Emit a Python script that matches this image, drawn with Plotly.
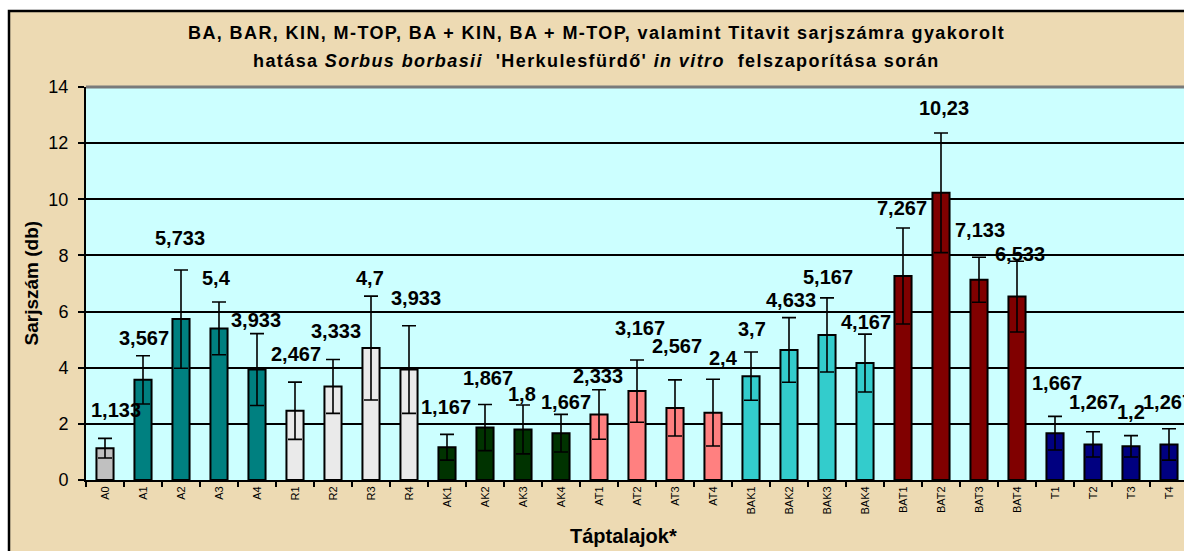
import plotly.graph_objects as go

categories = ["A0", "A1", "A2", "A3", "A4", "R1", "R2", "R3", "R4",
              "AK1", "AK2", "AK3", "AK4", "AT1", "AT2", "AT3", "AT4",
              "BAK1", "BAK2", "BAK3", "BAK4", "BAT1", "BAT2", "BAT3", "BAT4",
              "T1", "T2", "T3", "T4"]
values = [1.133, 3.567, 5.733, 5.4, 3.933, 2.467, 3.333, 4.7, 3.933,
          1.167, 1.867, 1.8, 1.667, 2.333, 3.167, 2.567, 2.4,
          3.7, 4.633, 5.167, 4.167, 7.267, 10.23, 7.133, 6.533,
          1.667, 1.267, 1.2, 1.267]
errors = [0.35, 0.86, 1.75, 0.94, 1.28, 1.02, 0.96, 1.85, 1.56,
          0.46, 0.82, 0.87, 0.67, 0.88, 1.11, 1.0, 1.19,
          0.86, 1.15, 1.32, 1.03, 1.71, 2.13, 0.8, 1.26,
          0.6, 0.45, 0.38, 0.56]
value_labels = ["1,133", "3,567", "5,733", "5,4", "3,933", "2,467", "3,333", "4,7", "3,933",
                "1,167", "1,867", "1,8", "1,667", "2,333", "3,167", "2,567", "2,4",
                "3,7", "4,633", "5,167", "4,167", "7,267", "10,23", "7,133", "6,533",
                "1,667", "1,267", "1,2", "1,267"]

# styles
group_colors = ["#C0C0C0"] + ["#008080"] * 4 + ["#EAEAEA"] * 4 + ["#003300"] * 4 + \
               ["#FF8080"] * 4 + ["#33CCCC"] * 4 + ["#800000"] * 4 + ["#000080"] * 4
# label offsets in pixels (dx, dy above bar top)
label_dx = [11, 1, -1, -3, -1, 1, 3, -1, 7, -1, 3, -1, 5, -1, 3, 2, 10,
            1, 2, 1, 1, -1, 3, 1, 3, 2, 1, 0, -1]
label_dy = [38, 42, 81, 50, 50, 57, 55, 70, 72, 40, 50, 35, 31, 39, 63, 62, 55,
            47, 50, 58, 41, 68, 85, 50, 43, 50, 42, 34, 42]

FONT = "Liberation Sans, Arial, sans-serif"
W, H = 1184, 551
L, R, T, B = 86, 1184, 87, 480
PW, PH = R - L, B - T


def px(x):
    return (x - L) / PW


def py(y):
    return (B - y) / PH


fig = go.Figure()
fig.add_trace(go.Bar(
    x=categories, y=values, width=0.45,
    marker=dict(color=group_colors, line=dict(color="black", width=2)),
    error_y=dict(type="data", array=errors, visible=True, color="black",
                 thickness=1.6, width=7),
    hoverinfo="x+y",
))

annotations = []
for c, v, t, dx, dy in zip(categories, values, value_labels, label_dx, label_dy):
    annotations.append(dict(x=c, y=v, xref="x", yref="y", text="<b>" + t + "</b>", showarrow=False,
                            xshift=dx, yshift=dy, xanchor="center", yanchor="middle",
                            font=dict(family=FONT, size=20, color="black")))

annotations += [
    dict(x=px(596), y=py(33), xref="paper", yref="paper", showarrow=False,
         text="<b>BA, BAR, KIN, M-TOP, BA + KIN, BA + M-TOP, valamint Titavit sarjszámra gyakorolt</b>",
         font=dict(family=FONT, size=18, color="black"), xanchor="center", yanchor="middle"),
    dict(x=px(596), y=py(61), xref="paper", yref="paper", showarrow=False,
         text="<b>hatása <i>Sorbus borbasii</i>  'Herkulesfürdő' <i>in vitro</i>  felszaporítása során</b>",
         font=dict(family=FONT, size=18, color="black"), xanchor="center", yanchor="middle"),
    dict(x=px(623), y=py(536), xref="paper", yref="paper", showarrow=False,
         text="<b>Táptalajok*</b>", font=dict(family=FONT, size=20, color="black"),
         xanchor="center", yanchor="middle"),
    dict(x=px(31), y=0.5, xref="paper", yref="paper", showarrow=False, textangle=-90,
         text="<b>Sarjszám (db)</b>", font=dict(family=FONT, size=19, color="black"),
         xanchor="center", yanchor="middle"),
]

shapes = [
    dict(type="rect", xref="paper", yref="paper", x0=px(9), x1=px(1195), y0=py(565), y1=py(11),
         fillcolor="#EDDAB3", line=dict(color="black", width=2.5), layer="below"),
    dict(type="rect", xref="paper", yref="paper", x0=0, x1=1.01, y0=0, y1=1,
         fillcolor="#CCFFFF", line=dict(width=0), layer="below"),
    dict(type="line", xref="paper", yref="paper", x0=0, x1=1.01, y0=1, y1=1,
         line=dict(color="#7A7A7A", width=3), layer="above"),
]

fig.update_layout(
    width=W, height=H,
    margin=dict(l=L, r=W - R, t=T, b=H - B, pad=0),
    paper_bgcolor="white", plot_bgcolor="#CCFFFF",
    showlegend=False, bargap=0.55,
    annotations=annotations, shapes=shapes,
    font=dict(family=FONT, color="black"),
)
fig.update_xaxes(
    type="category", range=[-0.5, -0.5 + PW / 38.0],
    showline=True, linecolor="black", linewidth=2,
    ticks="outside", tickson="boundaries", ticklen=5, tickwidth=2, tickcolor="black",
    tickangle=-90, tickfont=dict(family=FONT, size=11, color="black"),
    showgrid=False, zeroline=False,
)
fig.update_yaxes(
    range=[0, 14], dtick=2, tick0=0,
    showline=True, linecolor="black", linewidth=2,
    ticks="outside", ticklen=6, tickwidth=2, tickcolor="black",
    tickfont=dict(family=FONT, size=18, color="black"), ticklabelstandoff=6,
    showgrid=True, gridcolor="black", gridwidth=1.6, zeroline=False,
)

post = """
document.body.style.margin = '0';
document.body.style.overflow = 'hidden';
document.documentElement.style.overflow = 'hidden';
document.querySelectorAll('text.annotation-text').forEach(function (e) {
  var s = e.textContent || '';
  if (s.indexOf('BA, BAR') === 0 || s.indexOf('hatása') === 0) {
    e.setAttribute('letter-spacing', '1.4px');
  }
});
"""

fig.write_html("out.html", post_script=post, config={"displayModeBar": False})
